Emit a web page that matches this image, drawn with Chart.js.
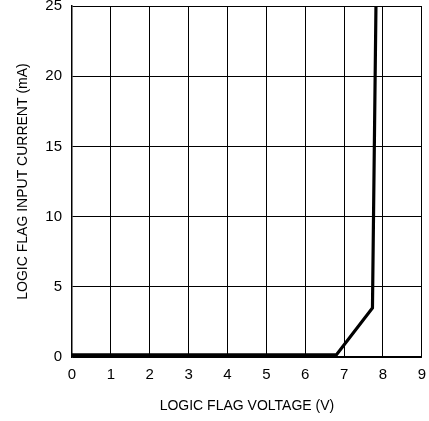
<!DOCTYPE html>
<html>
<head>
<meta charset="utf-8">
<script src="https://cdn.jsdelivr.net/npm/chart.js@4.4.0/dist/chart.umd.min.js"></script>
<style>
  html, body { margin: 0; padding: 0; background: #fff; overflow: hidden; }
  #wrap { width: 429px; height: 421px; overflow: hidden; }
  /* canvas a bit larger than the window, shifted up, so the plot fills it like the reference */
  #chart { display: block; margin-top: -13px; }
</style>
</head>
<body>
<div id="wrap"><canvas id="chart" width="435" height="434"></canvas></div>
<script>
// curve: voltage (V) -> current (mA)
const voltage = [0, 6.8, 7.73, 7.82];
const current = [0.15, 0.15, 3.5, 25];

const xTicks = [0, 1, 2, 3, 4, 5, 6, 7, 8, 9];
const yTicks = [0, 5, 10, 15, 20, 25];

const font = "Liberation Sans";

document.addEventListener("DOMContentLoaded", () => {
    const points = voltage.map((v, i) => ({ x: v, y: current[i] }));

    new Chart(document.getElementById("chart"), {
        type: "line",
        data: {
            datasets: [{
                data: points,
                borderColor: "#000",
                borderWidth: 3.2,
                pointRadius: 0,
                tension: 0,
                fill: false
            }]
        },
        options: {
            responsive: false,
            animation: false,
            layout: { padding: { top: 0, right: 3, bottom: 2.2, left: 10.5 } },
            plugins: { legend: { display: false }, tooltip: { enabled: false } },
            scales: {
                x: {
                    type: "linear",
                    min: xTicks[0],
                    max: xTicks[xTicks.length - 1],
                    afterBuildTicks: (s) => { s.ticks = xTicks.map(v => ({ value: v })); },
                    grid: { color: "#000", lineWidth: 1, drawTicks: false },
                    border: { color: "#000", width: 1.5 },
                    ticks: { color: "#000", font: { family: font, size: 15 }, padding: 9, maxRotation: 0 },
                    title: { display: true, text: "LOGIC FLAG VOLTAGE (V)", color: "#000", font: { family: font, size: 14 }, padding: { top: 5 } }
                },
                y: {
                    min: yTicks[0],
                    max: yTicks[yTicks.length - 1],
                    afterBuildTicks: (s) => { s.ticks = yTicks.map(v => ({ value: v })); },
                    grid: { color: "#000", lineWidth: 1, drawTicks: false },
                    border: { color: "#000", width: 1.5 },
                    ticks: { color: "#000", font: { family: font, size: 15 }, padding: 10 },
                    title: { display: true, text: "LOGIC FLAG INPUT CURRENT (mA)", color: "#000", font: { family: font, size: 14 }, padding: { bottom: 4 } }
                }
            }
        }
    });
});
</script>
</body>
</html>
